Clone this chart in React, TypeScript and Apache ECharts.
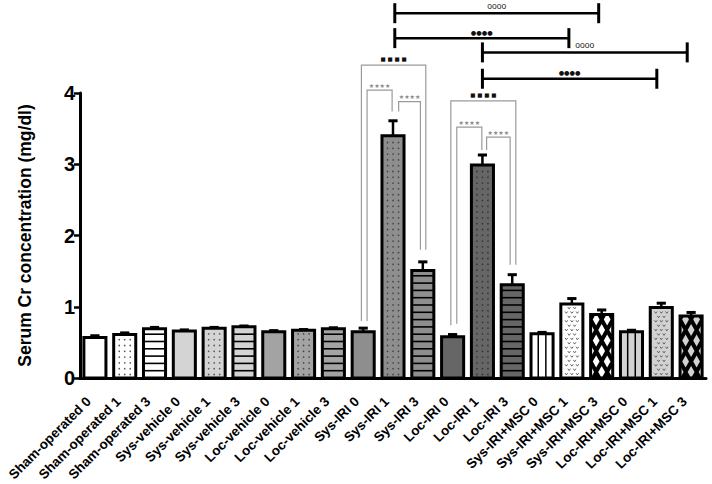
import React, { useEffect, useRef } from "react";
import * as echarts from "echarts";

// ---------- data ----------
const categories = [
  "Sham-operated 0", "Sham-operated 1", "Sham-operated 3",
  "Sys-vehicle 0", "Sys-vehicle 1", "Sys-vehicle 3",
  "Loc-vehicle 0", "Loc-vehicle 1", "Loc-vehicle 3",
  "Sys-IRI 0", "Sys-IRI 1", "Sys-IRI 3",
  "Loc-IRI 0", "Loc-IRI 1", "Loc-IRI 3",
  "Sys-IRI+MSC 0", "Sys-IRI+MSC 1", "Sys-IRI+MSC 3",
  "Loc-IRI+MSC 0", "Loc-IRI+MSC 1", "Loc-IRI+MSC 3",
];
const meanCr = [
  0.57, 0.61, 0.69,
  0.66, 0.70, 0.72,
  0.65, 0.67, 0.69,
  0.65, 3.40, 1.51,
  0.58, 2.99, 1.31,
  0.62, 1.04, 0.89,
  0.65, 0.99, 0.87,
];
const semCr = [
  0.023, 0.023, 0.02,
  0.015, 0.01, 0.01,
  0.015, 0.01, 0.015,
  0.05, 0.21, 0.12,
  0.03, 0.14, 0.14,
  0.02, 0.075, 0.065,
  0.02, 0.06, 0.05,
];
const yTicks = [0, 1, 2, 3, 4];

// significance brackets (x in category index units, y in mg/dl units)
const bracketFrom = [10.06, 10.06, 13.0, 13.0, 8.94, 9.13, 10.19, 11.94, 12.14, 13.14];
const bracketTo = [16.9, 15.9, 19.87, 18.85, 11.1, 9.97, 10.92, 14.12, 12.98, 13.93];
const bracketLevel = [5.12, 4.77, 4.57, 4.2, 4.39, 4.04, 3.88, 3.89, 3.52, 3.38];
const bracketLeftEnd = [0, 0, 0, 0, 0.8, 0.8, 3.74, 0.74, 0.76, 3.2];
const bracketRightEnd = [0, 0, 0, 0, 1.8, 3.74, 1.8, 1.59, 3.2, 1.59];
const bracketLabels = ["oooo", "●●●●", "oooo", "●●●●", "■ ■ ■ ■", "★★★★", "★★★★", "■ ■ ■ ■", "★★★★", "★★★★"];

// ---------- styles ----------
const barFills = [
  "#ffffff", "#ffffff", "#ffffff",
  "#d4d4d4", "#d4d4d4", "#d4d4d4",
  "#a3a3a3", "#a3a3a3", "#a3a3a3",
  "#8e8e8e", "#8e8e8e", "#8e8e8e",
  "#666666", "#666666", "#666666",
  "#ffffff", "#ffffff", "#000000",
  "#d2d2d2", "#d2d2d2", "#000000",
];
const barPatterns = [
  "none", "dots", "hlines",
  "none", "dots", "hlines",
  "none", "dots", "hlines",
  "none", "dots", "hlines",
  "none", "dots", "hlines",
  "vlines", "chevrons", "diamonds",
  "vlines", "chevrons", "diamonds",
];
const patternInk = [
  "#000", "#555", "#000",
  "#000", "#555", "#000",
  "#000", "#444", "#000",
  "#000", "#444", "#000",
  "#000", "#333", "#000",
  "#000", "#555", "#ffffff",
  "#000", "#555", "#d2d2d2",
];
const FONT = "'Liberation Sans', Arial, Helvetica, sans-serif";

function clipPoly(pts: number[][], xmin: number, ymin: number, xmax: number, ymax: number) {
  const edges = [
    (p: number[]) => p[0] >= xmin,
    (p: number[]) => p[0] <= xmax,
    (p: number[]) => p[1] >= ymin,
    (p: number[]) => p[1] <= ymax,
  ];
  const inter = (a: number[], b: number[], k: number) => {
    let t = 0;
    if (k === 0) t = (xmin - a[0]) / (b[0] - a[0]);
    if (k === 1) t = (xmax - a[0]) / (b[0] - a[0]);
    if (k === 2) t = (ymin - a[1]) / (b[1] - a[1]);
    if (k === 3) t = (ymax - a[1]) / (b[1] - a[1]);
    return [a[0] + t * (b[0] - a[0]), a[1] + t * (b[1] - a[1])];
  };
  let out = pts;
  for (let k = 0; k < 4; k++) {
    const inp = out;
    out = [];
    if (!inp.length) break;
    for (let j = 0; j < inp.length; j++) {
      const cur = inp[j];
      const prev = inp[(j + inp.length - 1) % inp.length];
      const cin = edges[k](cur);
      const pin = edges[k](prev);
      if (cin) {
        if (!pin) out.push(inter(prev, cur, k));
        out.push(cur);
      } else if (pin) {
        out.push(inter(prev, cur, k));
      }
    }
  }
  return out;
}

const renderBar = (params: any, api: any) => {
  const i = params.dataIndex;
  const v = api.value(1);
  const e = api.value(2);
  const base = api.coord([i, 0]);
  const top = api.coord([i, v]);
  const cap = api.coord([i, v + e]);
  const band = api.size([1, 0])[0];
  const w = band * 0.74;
  const cx = base[0];
  const x0 = cx - w / 2;
  const x1 = cx + w / 2;
  const y0 = top[1];
  const y1 = base[1];
  const kids: any[] = [];
  kids.push({ type: "rect", shape: { x: x0, y: y0, width: w, height: y1 - y0 }, style: { fill: barFills[i] } });
  const p = barPatterns[i];
  const ink = patternInk[i];
  if (p === "dots") {
    for (let y = y1 - 3.5; y > y0 + 2; y -= 5.8) {
      for (const dx of [-5.5, 0, 5.5]) {
        kids.push({ type: "circle", shape: { cx: cx + dx, cy: y, r: 0.8 }, style: { fill: ink } });
      }
    }
  }
  if (p === "hlines") {
    for (let y = y1 - 7.3; y > y0 + 2.5; y -= 7.3) {
      kids.push({ type: "line", shape: { x1: x0, y1: y, x2: x1, y2: y }, style: { stroke: ink, lineWidth: 1.6 } });
    }
  }
  if (p === "vlines") {
    for (const dx of [-3.8, 3.8]) {
      kids.push({ type: "line", shape: { x1: cx + dx, y1: y0, x2: cx + dx, y2: y1 }, style: { stroke: ink, lineWidth: 1.5 } });
    }
  }
  if (p === "chevrons") {
    let r = 0;
    for (let y = y1 - 4; y > y0 + 3; y -= 4.4, r++) {
      const offs = r % 2 === 0 ? [-5.5, 0, 5.5] : [-2.75, 2.75];
      for (const dx of offs) {
        const x = cx + dx;
        kids.push({
          type: "polyline",
          shape: { points: [[x - 1.3, y - 0.9], [x, y + 0.9], [x + 1.3, y - 0.9]] },
          style: { stroke: ink, lineWidth: 0.9, fill: "none" },
        });
      }
    }
  }
  if (p === "diamonds") {
    const a = 5.5;
    const b = 10.5;
    const hw = 3.4;
    const hh = 6.0;
    let r = 0;
    for (let y = y1 - 6; y > y0 - b; y -= b, r++) {
      for (let m = -3; m <= 3; m++) {
        const x = cx + (r % 2) * a + 2 * a * m;
        const poly = clipPoly([[x, y - hh], [x + hw, y], [x, y + hh], [x - hw, y]], x0, y0, x1, y1);
        if (poly.length >= 3) kids.push({ type: "polygon", shape: { points: poly }, style: { fill: ink } });
      }
    }
  }
  kids.push({ type: "rect", shape: { x: x0, y: y0, width: w, height: y1 - y0 }, style: { fill: "none", stroke: "#000", lineWidth: 3 } });
  if (y0 - cap[1] > 1) {
    kids.push({ type: "line", shape: { x1: cx, y1: y0, x2: cx, y2: cap[1] }, style: { stroke: "#000", lineWidth: 2.5 } });
  }
  kids.push({ type: "line", shape: { x1: cx - 4.6, y1: Math.min(cap[1], y0 - 0.5), x2: cx + 4.6, y2: Math.min(cap[1], y0 - 0.5) }, style: { stroke: "#000", lineWidth: 3 } });
  return { type: "group", children: kids };
};

const renderBracket = (params: any, api: any) => {
  const k = params.dataIndex;
  const origin = api.coord([0, 0]);
  const band = api.size([1, 0])[0];
  const xa = origin[0] + bracketFrom[k] * band;
  const xb = origin[0] + bracketTo[k] * band;
  const yl = api.coord([0, bracketLevel[k]])[1];
  const label = bracketLabels[k];
  const kids: any[] = [];
  const main = k < 4;
  if (main) {
    kids.push({ type: "line", shape: { x1: xa, y1: yl, x2: xb, y2: yl }, style: { stroke: "#000", lineWidth: 2.5 } });
    kids.push({ type: "line", shape: { x1: xa, y1: yl - 10, x2: xa, y2: yl + 10 }, style: { stroke: "#000", lineWidth: 3 } });
    kids.push({ type: "line", shape: { x1: xb, y1: yl - 10, x2: xb, y2: yl + 10 }, style: { stroke: "#000", lineWidth: 3 } });
  } else {
    const ya = api.coord([0, bracketLeftEnd[k]])[1];
    const yb = api.coord([0, bracketRightEnd[k]])[1];
    kids.push({
      type: "polyline",
      shape: { points: [[xa, ya], [xa, yl], [xb, yl], [xb, yb]] },
      style: { stroke: "#9a9a9a", lineWidth: 1.2, fill: "none" },
    });
  }
  const isStar = label.indexOf("★") >= 0;
  const isOpen = label === "oooo";
  const isSquare = label.indexOf("■") >= 0;
  kids.push({
    type: "text",
    style: {
      text: label,
      x: (xa + xb) / 2,
      y: yl - (main ? 3 : isStar ? 2 : 3),
      textAlign: "center",
      textVerticalAlign: "bottom",
      align: "center",
      verticalAlign: "bottom",
      fill: isStar ? "#8a8a8a" : isOpen ? "#222" : "#111",
      fontSize: isStar ? 6 : isOpen ? 8.5 : isSquare ? 5.5 : 6.3,
      fontFamily: isOpen ? FONT : "'DejaVu Sans', sans-serif",
    },
  });
  return { type: "group", children: kids };
};

export default function App() {
  const ref = useRef<HTMLDivElement>(null);
  useEffect(() => {
    const chart = echarts.init(ref.current as HTMLDivElement, null, { renderer: "svg" });
    const option: any = {
      animation: false,
      backgroundColor: "#ffffff",
      grid: { left: 80, right: 6, top: 93, bottom: 106, containLabel: false },
      xAxis: {
        type: "category",
        data: categories,
        axisLine: { lineStyle: { color: "#000", width: 3 } },
        axisTick: { alignWithLabel: true, length: 6, lineStyle: { color: "#000", width: 2 } },
        axisLabel: {
          interval: 0,
          rotate: 45,
          margin: 15,
          padding: [0, 9, 0, 0],
          color: "#000",
          fontSize: 13.5,
          fontWeight: "bold",
          fontFamily: FONT,
        },
      },
      yAxis: {
        type: "value",
        min: yTicks[0],
        max: yTicks[yTicks.length - 1],
        interval: 1,
        name: "Serum Cr concentration (mg/dl)",
        nameLocation: "middle",
        nameGap: 46,
        nameTextStyle: { color: "#000", fontSize: 17.5, fontWeight: "bold", fontFamily: FONT },
        axisLine: { show: true, lineStyle: { color: "#000", width: 3 } },
        axisTick: { show: true, length: 6, lineStyle: { color: "#000", width: 2.5 } },
        splitLine: { show: false },
        axisLabel: { color: "#000", fontSize: 20, fontWeight: "bold", fontFamily: FONT, margin: 5 },
      },
      series: [
        {
          type: "custom",
          renderItem: renderBar,
          encode: { x: 0, y: 1 },
          data: categories.map((_, i) => [i, meanCr[i], semCr[i]]),
          clip: false,
          z: 2,
        },
        {
          type: "custom",
          renderItem: renderBracket,
          encode: { x: 0, y: 1 },
          data: bracketLevel.map((y) => [0, y]),
          clip: false,
          z: 3,
          silent: true,
        },
      ],
    };
    chart.setOption(option);
    return () => chart.dispose();
  }, []);
  return (
    <div
      ref={ref}
      style={{ position: "absolute", left: 0, top: 0, width: 712, height: 484, background: "#fff" }}
    />
  );
}
